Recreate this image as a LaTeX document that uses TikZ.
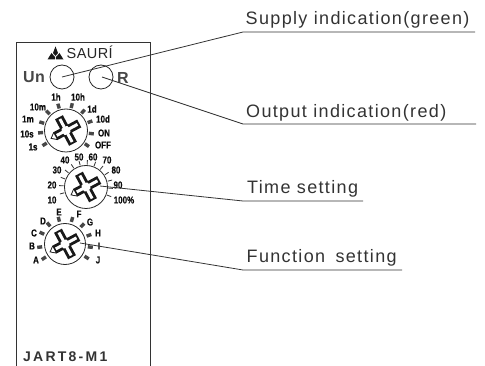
\documentclass[tikz,border=0pt]{standalone}
\usepackage{fontspec}
\usetikzlibrary{calc}
\setmainfont{Liberation Sans}
\newfontfamily\narrowbf[FakeStretch=0.8,FakeBold=0.4]{Liberation Sans Bold}
\newfontfamily\spacedrm[LetterSpace=7.5]{Liberation Sans}
\newfontfamily\brandrm[LetterSpace=3]{Liberation Sans}
\newfontfamily\modelbf[LetterSpace=16]{Liberation Sans Bold}
\newfontfamily\unbf[LetterSpace=3]{Liberation Sans Bold}
\tikzset{
  x=1pt,y=-1pt,
  leader/.style={draw=black!80,line width=0.8pt},
  panel/.style={draw=black!80,line width=1pt},
  callout/.style={anchor=base west,inner sep=0pt,font=\fontsize{18}{20}\spacedrm,text=black!80},
  tiny/.style={inner sep=0pt,font=\fontsize{10}{11}\narrowbf,text=black!95},
  big/.style={inner sep=0pt,font=\fontsize{16}{17}\unbf,text=black!72},
  dial/.style={circle,draw=black!85,line width=0.8pt,minimum size=#1,inner sep=0pt},
  tick/.style={draw=black!72,line width=3.4pt},
  fine/.style={draw=black!80,line width=0.8pt}
}
\newcommand{\crossknob}[2]{%
 \begin{scope}[shift={(#1,#2)},rotate=-62]
  \fill[black!90,line join=round]
    (-4.4,-4.4)--(-4.4,-15)--(4.4,-15)--(4.4,-4.4)--(15,-4.4)--(15,4.4)--(4.4,4.4)--(4.4,12)--(0,17.5)--(-4.4,12)--(-4.4,4.4)--(-15,4.4)--(-15,-4.4)--cycle;
  \fill[white] (-1.5,-4)rectangle(1.5,-13) (4,-1.5)rectangle(13,1.5) (-4,-1.5)rectangle(-13,1.5) (-1.5,4)rectangle(1.5,10.5);
  \fill[white] (-3,12.3)--(3,12.3)--(0,16)--cycle;
  \fill[white] (0,0) circle (4.6);
 \end{scope}}
\begin{document}
\begin{tikzpicture}
\useasboundingbox (0,0) rectangle (485,366);
\draw[panel] (16,366)--(16,43)--(150,43)--(150,366);

% logo and indicators
\node[anchor=base west,inner sep=0pt,font=\fontsize{14.5}{15}\brandrm,text=black!85] (brand) at (66.5,58.5) {SAURÍ};
\fill[black!90] (55.5,46.5)--(58,53)--(55.5,56)--(53,53)--cycle;
\fill[black!90] (51.5,53)--(55,57)--(55,59.5)--(47.5,59.5)--cycle;
\fill[black!90] (59.5,53)--(63.5,59.5)--(56,59.5)--(56,57)--cycle;
\node[big,anchor=west] (un) at (23,77.5) {Un};
\node[big] (r) at (123,77.5) {R};
\node[dial=24pt] (led1) at (62,77) {};
\node[dial=24pt] (led2) at (101,77) {};
\coordinate (p1) at (62,77);
\coordinate (p2) at (102,77);

% dial 1
\node[dial=43pt] (d1) at (66,130.5) {};
\foreach \a in {-135,-107,-77,-48,-20,7,35,147,175,-162}{
 \draw[tick] ($(d1)+({\a}:23)$)--($(d1)+({\a}:28)$);}
\node[tiny] at (56,97) {1h};
\node[tiny] at (78,97) {10h};
\node[tiny] at (38,107) {10m};
\node[tiny] at (92,109) {1d};
\node[tiny] at (28,119) {1m};
\node[tiny] at (103,119) {10d};
\node[tiny] at (27,134) {10s};
\node[tiny] at (104,133) {ON};
\node[tiny] at (33,147) {1s};
\node[tiny] at (103,145) {OFF};
\crossknob{66}{130.5}

% dial 2
\node[dial=43pt] (d2) at (86,187) {};
\foreach \a in {165,-177,-159,-141,-123,-105,-87,-69,-51,-33,-15,3,21}{
 \draw[fine] ($(d2)+({\a}:22.5)$)--($(d2)+({\a}:27)$);}
\node[tiny] at (52,200) {10};
\node[tiny] at (52,185) {20};
\node[tiny] at (57,170) {30};
\node[tiny] at (65,160) {40};
\node[tiny] at (79,157) {50};
\node[tiny] at (93,157) {60};
\node[tiny] at (107,160) {70};
\node[tiny] at (116,170) {80};
\node[tiny] at (118,185) {90};
\node[tiny] at (124,200) {100\%};
\crossknob{86}{187}
\coordinate (p3) at (100,186);

% dial 3
\node[dial=41pt] (d3) at (65,244) {};
\foreach \a in {146,173,-155,-130,-104,-74,-47,-20,7,32}{
 \draw[tick] ($(d3)+({\a}:23)$)--($(d3)+({\a}:28)$);}
\node[tiny] at (36,260) {A};
\node[tiny] at (32,246) {B};
\node[tiny] at (34,233) {C};
\node[tiny] at (43,221) {D};
\node[tiny] at (59,212) {E};
\node[tiny] at (79,214) {F};
\node[tiny] at (90,222) {G};
\node[tiny] at (98,233) {H};
\node[tiny] at (99,246) {I};
\node[tiny] at (98,260) {J};
\crossknob{65}{244}
\coordinate (p4) at (80,243);

% model
\node[anchor=base west,inner sep=0pt,font=\fontsize{14}{15}\modelbf,text=black!80] (model) at (23,361) {JART8-M1};

% callouts
\node[callout] (t1) at (245.5,25) {Supply indication(green)};
\node[callout] (t2) at (246,118) {Output indication(red)};
\node[callout] (t3) at (247,194) {Time setting};
\node[callout] (t4) at (246.5,263) {Function\hspace{4pt} setting};
\coordinate (k1) at (243,32);\coordinate (e1) at (475,32);
\coordinate (k2) at (243,124);\coordinate (e2) at (476,124);
\coordinate (k3) at (243,201);\coordinate (e3) at (363,201);
\coordinate (k4) at (243,270);\coordinate (e4) at (402,270);
\draw[leader] (p1)--(k1)--(e1);
\draw[leader] (p2)--(k2)--(e2);
\draw[leader] (p3)--(k3)--(e3);
\draw[leader] (p4)--(k4)--(e4);
\end{tikzpicture}
\end{document}
